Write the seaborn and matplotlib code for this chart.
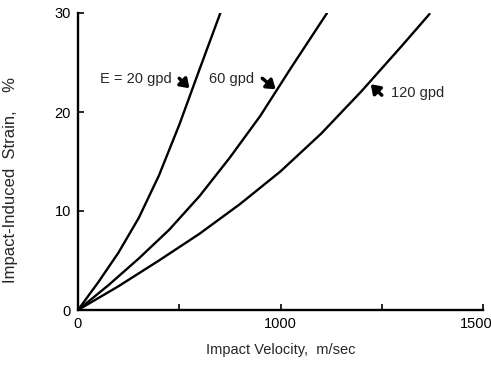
import matplotlib
matplotlib.use("Agg")
import matplotlib.pyplot as plt
import matplotlib.transforms as mtransforms
import seaborn as sns
import pandas as pd

# Data (velocity m/s, strain %)
v_20 = [0, 100, 200, 300, 400, 500, 600, 703]
s_20 = [0, 2.8, 5.8, 9.3, 13.6, 18.7, 24.3, 30.0]
v_60 = [0, 150, 300, 450, 600, 750, 900, 1050, 1230]
s_60 = [0, 2.5, 5.2, 8.1, 11.5, 15.4, 19.6, 24.4, 30.0]
v_120 = [0, 200, 400, 600, 800, 1000, 1200, 1400, 1600, 1736]
s_120 = [0, 2.4, 5.0, 7.7, 10.7, 14.0, 17.8, 22.1, 26.7, 29.9]
series_names = ["20 gpd", "60 gpd", "120 gpd"]

x_ticks = [0, 500, 1000, 1500, 2000]
x_tick_labels = ["0", "", "1000", "", "1500"]
y_ticks = [0, 10, 20, 30]
y_tick_labels = ["0", "10", "20", "30"]

frames = []
for name, v, s in zip(series_names, [v_20, v_60, v_120], [s_20, s_60, s_120]):
    frames.append(pd.DataFrame({"velocity": v, "strain": s, "modulus": name}))
df = pd.concat(frames, ignore_index=True)

sns.set_style("ticks")
plt.rcParams["font.family"] = ["Liberation Sans", "DejaVu Sans"]

fig = plt.figure(figsize=(4.91, 3.66), dpi=100)
ax = fig.add_axes([78 / 491, 56 / 366, 405 / 491, 297 / 366])

sns.lineplot(data=df, x="velocity", y="strain", hue="modulus",
             palette=["black"] * 3, legend=False, linewidth=1.7,
             sort=False, estimator=None, ax=ax)
for line in ax.get_lines():
    line.set_solid_joinstyle("round")
    line.set_solid_capstyle("round")

ax.set_xlim(0, 2000)
ax.set_ylim(0, 30)
ax.set_xticks(x_ticks)
ax.set_xticklabels(x_tick_labels)
ax.set_yticks(y_ticks)
ax.set_yticklabels(y_tick_labels)
ax.tick_params(direction="in", length=4, width=1.2, labelsize=10.5, colors="black", pad=5)
for side in ["top", "right"]:
    ax.spines[side].set_visible(False)
for side in ["left", "bottom"]:
    ax.spines[side].set_linewidth(1.7)
    ax.spines[side].set_color("black")

# shift the last x tick label left so it stays inside the figure
last = ax.get_xticklabels()[-1]
last.set_transform(last.get_transform() + mtransforms.ScaledTranslation(-7 / 100, 0, fig.dpi_scale_trans))

ax.set_xlabel("Impact Velocity,  m/sec", fontsize=10.5, labelpad=9)
ax.set_ylabel("Impact-Induced  Strain,    %", fontsize=12)
ax.yaxis.set_label_coords(-0.148, 0.438)

arrow = dict(arrowstyle="-|>,head_length=0.5,head_width=0.35", lw=2.5, color="black",
             shrinkA=0, shrinkB=0)
ax.text(108, 23.3, "E = 20 gpd", fontsize=10.5, ha="left", va="center")
ax.annotate("", xy=(550, 22.4), xytext=(500, 23.4), arrowprops=arrow)
ax.text(649, 23.3, "60 gpd", fontsize=10.5, ha="left", va="center")
ax.annotate("", xy=(976, 22.3), xytext=(910, 23.4), arrowprops=arrow)
ax.text(1545, 21.9, "120 gpd", fontsize=10.5, ha="left", va="center")
ax.annotate("", xy=(1446, 22.8), xytext=(1500, 21.7), arrowprops=arrow)

fig.savefig("out.png", dpi=100)
